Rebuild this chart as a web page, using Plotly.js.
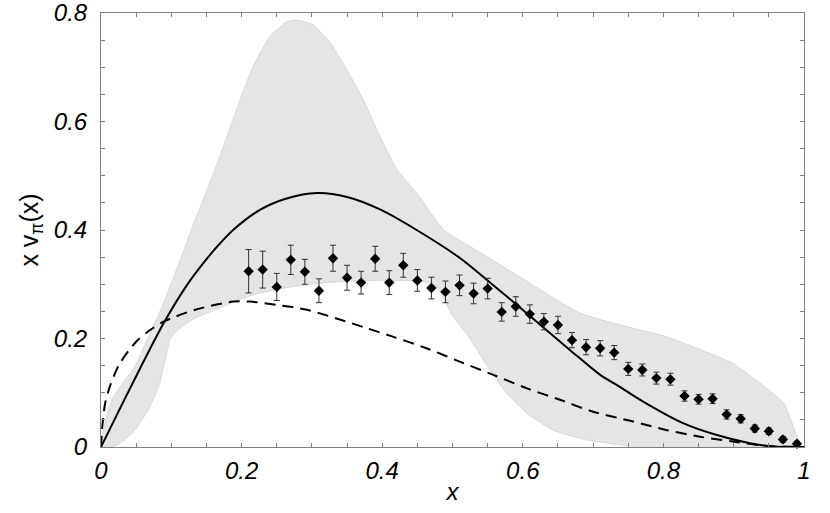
<!DOCTYPE html>
<html>
<head>
<meta charset="utf-8">
<script src="https://cdn.plot.ly/plotly-3.0.1.min.js"></script>
<style>
  body { margin: 0; background: #fff; }
  #chart { width: 830px; height: 513px; }
</style>
</head>
<body>
<div id="chart"></div>
<script>
// data points
var dataX = [0.21, 0.23, 0.25, 0.27, 0.29, 0.31, 0.33, 0.35, 0.37, 0.39,
             0.41, 0.43, 0.45, 0.47, 0.49, 0.51, 0.53, 0.55, 0.57, 0.59,
             0.61, 0.63, 0.65, 0.67, 0.69, 0.71, 0.73, 0.75, 0.77, 0.79,
             0.81, 0.83, 0.85, 0.87, 0.89, 0.91, 0.93, 0.95, 0.97, 0.99];
var dataY = [0.324, 0.327, 0.295, 0.345, 0.323, 0.288, 0.348, 0.312, 0.303, 0.347,
             0.303, 0.335, 0.307, 0.293, 0.286, 0.298, 0.283, 0.292, 0.249, 0.259,
             0.245, 0.231, 0.225, 0.197, 0.184, 0.182, 0.174, 0.144, 0.142, 0.127,
             0.125, 0.094, 0.088, 0.089, 0.060, 0.052, 0.034, 0.029, 0.014, 0.006];
var dataErr = [0.040, 0.034, 0.025, 0.027, 0.023, 0.022, 0.024, 0.023, 0.021, 0.023,
               0.022, 0.022, 0.020, 0.020, 0.020, 0.019, 0.019, 0.019, 0.017, 0.018,
               0.017, 0.015, 0.016, 0.014, 0.014, 0.014, 0.013, 0.012, 0.011, 0.011,
               0.011, 0.0095, 0.009, 0.009, 0.0085, 0.0075, 0.0065, 0.006, 0.0055, 0.0045];

// solid curve
var solidX = [0, 0.044, 0.089, 0.122, 0.145, 0.167, 0.188, 0.226, 0.264,
              0.307, 0.350, 0.397, 0.449, 0.511, 0.549, 0.606, 0.667, 0.710, 0.738,
              0.767, 0.828, 0.876, 0.923, 0.956, 1];
var solidY = [0, 0.115, 0.228, 0.298, 0.338, 0.372, 0.400, 0.437, 0.458,
              0.468, 0.461, 0.438, 0.400, 0.348, 0.308, 0.246, 0.179, 0.133, 0.111,
              0.087, 0.044, 0.022, 0.007, 0.001, 0];

// dashed curve
var dashX = [0, 0.002, 0.006, 0.013, 0.025, 0.039, 0.053, 0.067, 0.089,
             0.134, 0.188, 0.212, 0.250, 0.293, 0.335, 0.378, 0.416, 0.463,
             0.511, 0.558, 0.606, 0.653, 0.700, 0.757, 0.805, 0.852, 0.899, 0.947, 1];
var dashY = [0, 0.040, 0.081, 0.113, 0.150, 0.177, 0.198, 0.213, 0.231,
             0.253, 0.268, 0.268, 0.262, 0.253, 0.237, 0.219, 0.203, 0.182,
             0.157, 0.133, 0.108, 0.087, 0.065, 0.047, 0.031, 0.019, 0.010, 0.002, 0];

// grey band edges
var bandUpX = [0, 0.015, 0.048, 0.070, 0.091, 0.130, 0.169, 0.198, 0.216, 0.240, 0.264,
               0.278, 0.302, 0.326, 0.350, 0.373, 0.397, 0.421, 0.449, 0.487, 0.549,
               0.681, 0.738, 0.805, 0.899, 0.971, 0.994, 1];
var bandUpY = [0, 0.087, 0.148, 0.210, 0.271, 0.405, 0.535, 0.640, 0.701, 0.756, 0.784,
               0.787, 0.778, 0.745, 0.695, 0.640, 0.572, 0.511, 0.468, 0.401, 0.351,
               0.247, 0.225, 0.203, 0.154, 0.081, 0.007, 0];
var bandLoX = [0, 0.020, 0.034, 0.048, 0.067, 0.082, 0.091, 0.098, 0.106, 0.13,
               0.16, 0.19, 0.22, 0.27, 0.32, 0.37, 0.42, 0.46, 0.478, 0.50,
               0.525, 0.549, 0.577, 0.606, 0.643, 0.691, 0.738, 0.77, 1];
var bandLoY = [0, 0.002, 0.013, 0.031, 0.068, 0.111, 0.160, 0.198, 0.212, 0.235,
               0.252, 0.268, 0.282, 0.295, 0.303, 0.307, 0.307, 0.305, 0.295, 0.242,
               0.200, 0.150, 0.099, 0.062, 0.031, 0.013, 0.004, 0, 0];

var font = 'Liberation Sans, Arial, sans-serif';
var tickFont = {family: font, size: 24, color: '#000', style: 'italic'};

var band = {
    x: bandUpX.concat(bandLoX.slice().reverse()),
    y: bandUpY.concat(bandLoY.slice().reverse()),
    type: 'scatter',
    mode: 'lines',
    fill: 'toself',
    fillcolor: '#e5e5e5',
    line: {color: '#d8d8d8', width: 1, shape: 'spline', smoothing: 0.4},
    hoverinfo: 'skip'
};

var dashed = {
    x: dashX, y: dashY,
    type: 'scatter', mode: 'lines',
    line: {color: '#000', width: 2, dash: '11px,7px', shape: 'spline', smoothing: 0.8}
};

var solid = {
    x: solidX, y: solidY,
    type: 'scatter', mode: 'lines',
    line: {color: '#000', width: 2, shape: 'spline', smoothing: 0.8}
};

var points = {
    x: dataX, y: dataY,
    type: 'scatter', mode: 'markers',
    marker: {symbol: 'diamond', size: 8, color: '#000'},
    error_y: {type: 'data', array: dataErr, visible: true, color: '#333', thickness: 1, width: 3},
    cliponaxis: false
};

var layout = {
    width: 830,
    height: 513,
    margin: {l: 101, r: 26, t: 13, b: 66},
    paper_bgcolor: '#fff',
    plot_bgcolor: '#fff',
    showlegend: false,
    xaxis: {
        range: [0, 1],
        dtick: 0.2,
        ticks: 'inside',
        ticklen: 4,
        tickcolor: '#808080',
        minor: {dtick: 0.05, ticks: 'inside', ticklen: 4, tickcolor: '#808080'},
        showline: true,
        linecolor: '#808080',
        linewidth: 1,
        mirror: 'ticks',
        showgrid: false,
        zeroline: false,
        tickfont: tickFont,
        ticklabelstandoff: 2,
        ticklabeloverflow: 'allow',
        title: {text: 'x', font: {family: font, size: 24, style: 'italic', color: '#000'}, standoff: 0}
    },
    yaxis: {
        range: [0, 0.8],
        dtick: 0.2,
        ticks: 'inside',
        ticklen: 4,
        tickcolor: '#808080',
        minor: {dtick: 0.05, ticks: 'inside', ticklen: 4, tickcolor: '#808080'},
        showline: true,
        linecolor: '#808080',
        linewidth: 1,
        mirror: 'ticks',
        showgrid: false,
        zeroline: false,
        tickfont: tickFont,
        ticklabelstandoff: 8,
        ticklabeloverflow: 'allow',
        title: {text: 'x v<sub>π</sub>(x)', font: {family: font, size: 25, color: '#000'}, standoff: 8}
    }
};

Plotly.newPlot('chart', [band, dashed, solid, points], layout, {staticPlot: true});
</script>
</body>
</html>
